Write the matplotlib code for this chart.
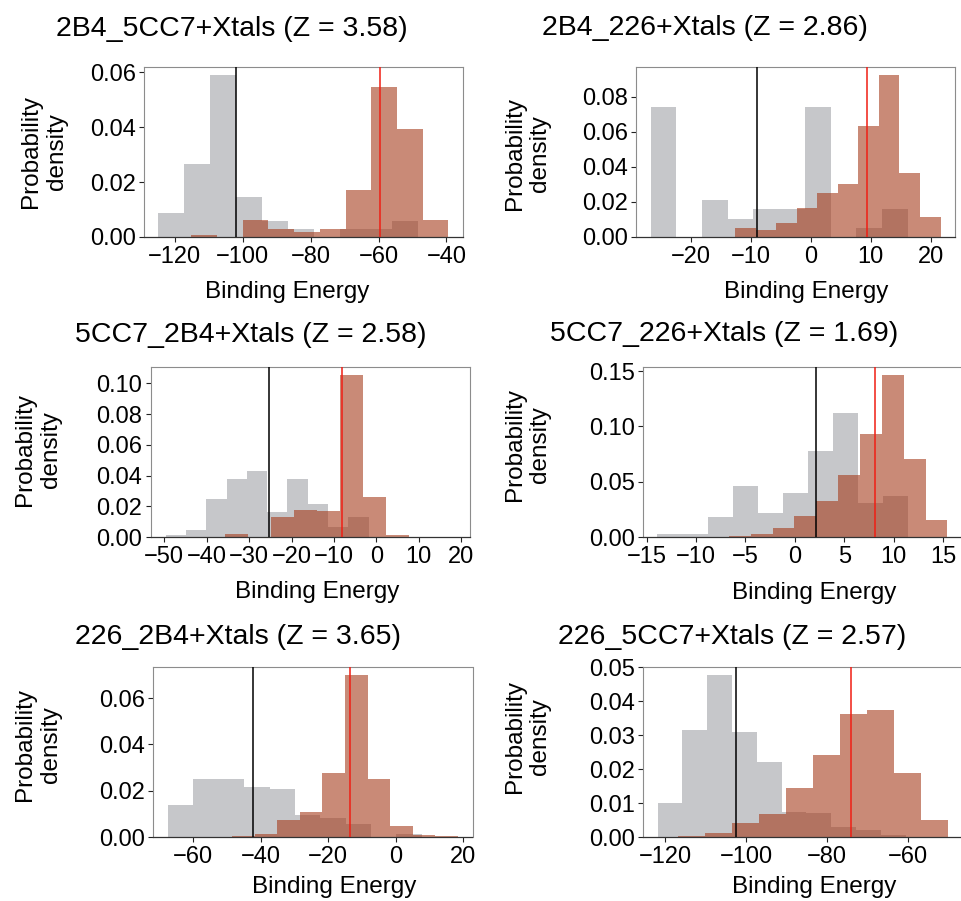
import numpy as np
import matplotlib.pyplot as plt
from matplotlib.ticker import MultipleLocator, FormatStrFormatter

plt.rcParams['font.family'] = ['Liberation Sans', 'DejaVu Sans']

# panel titles (row by row)
titles = [
    "2B4_5CC7+Xtals (Z = 3.58)",
    "2B4_226+Xtals (Z = 2.86)",
    "5CC7_2B4+Xtals (Z = 2.58)",
    "5CC7_226+Xtals (Z = 1.69)",
    "226_2B4+Xtals (Z = 3.65)",
    "226_5CC7+Xtals (Z = 2.57)",
]

# grey histogram: bin range and density per bin
grey_lo = [-124.8, -26.75, -49.7, -13.89, -67.4, -121.98]
grey_hi = [-48.3, 16.18, -1.8, 11.43, 7.8, -60.5]
grey_density = [
    [0.0087, 0.0266, 0.0589, 0.0146, 0.0058, 0.0029, 0.0, 0.0029, 0.0029, 0.0058],
    [0.0743, 0.0, 0.0212, 0.0104, 0.0159, 0.0159, 0.0743, 0.0, 0.0052, 0.0159],
    [0.0011, 0.0048, 0.0248, 0.038, 0.043, 0.0163, 0.038, 0.0213, 0.0065, 0.013],
    [0.0024, 0.0024, 0.0181, 0.0465, 0.0217, 0.0401, 0.0776, 0.1117, 0.0308, 0.0368],
    [0.0137, 0.025, 0.025, 0.0218, 0.0208, 0.0096, 0.0082, 0.0058, 0.0, 0.0014],
    [0.0101, 0.0316, 0.0477, 0.031, 0.0222, 0.0075, 0.0071, 0.0029, 0.0022, 0.0005],
]

# brown histogram: bin range and density per bin
brown_lo = [-115.2, -12.57, -35.7, -6.67, -48.4, -117.0]
brown_hi = [-39.4, 21.64, 7.7, 15.44, 18.5, -50.1]
brown_density = [
    [0.0006, 0.0, 0.0062, 0.0029, 0.0018, 0.0029, 0.0171, 0.0544, 0.0392, 0.0062],
    [0.0051, 0.0038, 0.0078, 0.0165, 0.0254, 0.0303, 0.0633, 0.0925, 0.0366, 0.0114],
    [0.0019, 0.0, 0.013, 0.0174, 0.0167, 0.1054, 0.0259, 0.0015],
    [0.0009, 0.0024, 0.0078, 0.019, 0.0323, 0.0558, 0.093, 0.1464, 0.0706, 0.0151],
    [0.0003, 0.0013, 0.0074, 0.0108, 0.0278, 0.0699, 0.0252, 0.0046, 0.0009, 0.0003],
    [0.0004, 0.0013, 0.0041, 0.0069, 0.0145, 0.0243, 0.0363, 0.0373, 0.0188, 0.0049],
]

# mean binding energies (vertical lines)
grey_mean = [-102.0, -8.9, -25.3, 2.19, -42.2, -102.6]
brown_mean = [-59.5, 9.45, -8.0, 8.12, -13.5, -74.0]

W, H = 962, 901
fig = plt.figure(figsize=(W / 100, H / 100), dpi=100)

# axes boxes in pixels: left, top
boxes = [(144, 67), (636, 67), (150.7, 367), (643, 367), (153.5, 667), (643, 667)]
aw, ah = 319, 170
xsteps = [20, 10, 10, 5, 20, 20]
ysteps = [0.02, 0.02, 0.02, 0.05, 0.02, 0.01]
xlims = [None, None, (-53.2, 22.0), None, None, None]

# text anchors in pixels
title_pos = [(232, 36), (705, 35), (251, 342.5), (724, 341.5), (238, 644.3), (732, 644)]
ylab_pos = [(44, 152), (527.5, 154), (38, 450), (527.5, 445), (38, 744.5), (527.5, 736.5)]
xlab_pos = [(286.7, 298), (806, 298), (317.5, 598), (814, 599.5), (334, 893), (814, 893)]

for i in range(6):
    left, top = boxes[i]
    ax = fig.add_axes([left / W, 1 - (top + ah) / H, aw / W, ah / H])

    ge = np.linspace(grey_lo[i], grey_hi[i], len(grey_density[i]) + 1)
    be = np.linspace(brown_lo[i], brown_hi[i], len(brown_density[i]) + 1)
    ax.bar(ge[:-1], grey_density[i], width=np.diff(ge), align='edge',
           color='#8f9196', alpha=0.5, linewidth=0)
    ax.bar(be[:-1], brown_density[i], width=np.diff(be), align='edge',
           color='#a53c1c', alpha=0.6, linewidth=0)
    ax.axvline(grey_mean[i], color='black', lw=1.1, zorder=3)
    ax.axvline(brown_mean[i], color='#f01e14', lw=1.1, zorder=3)

    if xlims[i] is not None:
        ax.set_xlim(*xlims[i])
    ax.xaxis.set_major_locator(MultipleLocator(xsteps[i]))
    ax.yaxis.set_major_locator(MultipleLocator(ysteps[i]))
    ax.yaxis.set_major_formatter(FormatStrFormatter('%.2f'))
    ax.tick_params(labelsize=17, length=3.5, width=0.8, pad=3, colors='#222222',
                   labelcolor='black')
    ax.tick_params(axis='y', pad=2.5)
    for side in ['top', 'right', 'left']:
        ax.spines[side].set_color('#8c8c8c')
        ax.spines[side].set_linewidth(0.8)
    ax.spines['bottom'].set_color('#333333')
    ax.spines['bottom'].set_linewidth(0.9)

    tx, ty = title_pos[i]
    fig.text(tx / W, 1 - ty / H, titles[i], fontsize=20.5,
             ha='center', va='baseline')
    lx, ly = ylab_pos[i]
    fig.text(lx / W, 1 - ly / H, "Probability\ndensity", fontsize=17.5,
             rotation=90, ha='center', va='center', multialignment='center')
    bx, by = xlab_pos[i]
    fig.text(bx / W, 1 - by / H, "Binding Energy", fontsize=17.5,
             ha='center', va='baseline')

fig.savefig('out.png', dpi=100)
